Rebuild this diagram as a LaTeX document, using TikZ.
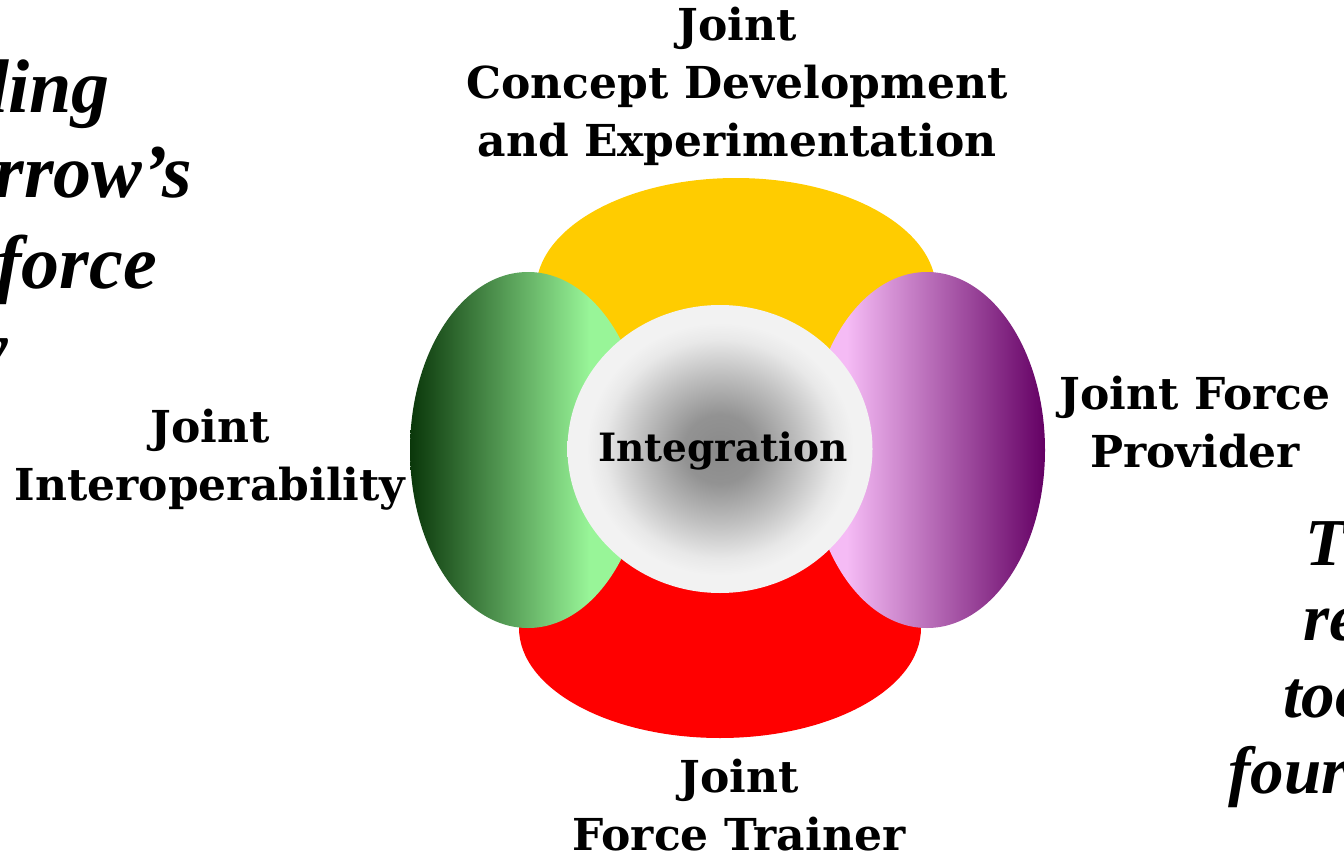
\documentclass[tikz,border=0pt]{standalone}
\usepackage{fontspec}
\setmainfont{DejaVu Serif}
\newfontfamily\sidefont{Liberation Serif}
\usetikzlibrary{shapes.geometric}
\definecolor{cdeyellow}{RGB}{255,204,0}
\definecolor{trainred}{RGB}{255,0,0}
\definecolor{gdark}{RGB}{10,55,10}
\definecolor{glight}{RGB}{152,245,152}
\definecolor{ppink}{RGB}{245,187,245}
\definecolor{pdark}{RGB}{100,0,100}
\pgfdeclarehorizontalshading{interopshade}{100bp}{color(0bp)=(gdark); color(25bp)=(gdark); color(63bp)=(glight); color(100bp)=(glight)}
\pgfdeclarehorizontalshading{providershade}{100bp}{color(0bp)=(ppink); color(33bp)=(ppink); color(75bp)=(pdark); color(100bp)=(pdark)}
\pgfdeclareradialshading{integshade}{\pgfpoint{0bp}{0bp}}{color(0bp)=(gray!92); color(6bp)=(gray!85); color(13bp)=(gray!50); color(19bp)=(gray!18); color(22bp)=(gray!10); color(50bp)=(gray!10)}
\tikzset{
  petal/.style={ellipse, inner sep=0pt},
  lbl/.style={font=\bfseries\fontsize{44}{58}\selectfont, align=center, inner sep=0pt},
  lside/.style={font=\sidefont\bfseries\itshape\fontsize{76}{84}\selectfont, inner sep=0pt, anchor=base east},
  rside/.style={font=\sidefont\bfseries\itshape\fontsize{67}{78}\selectfont, inner sep=0pt, anchor=base west}
}
\begin{document}
\begin{tikzpicture}[x=1pt,y=-1pt]
  \useasboundingbox (0,0) rectangle (1344,856);
  \clip (0,0) rectangle (1344,856);
  \node[petal, fill=cdeyellow, minimum width=400pt, minimum height=224pt] (cde) at (736,290) {};
  \node[petal, fill=trainred, minimum width=402pt, minimum height=220pt] (trainer) at (720,628) {};
  \node[petal, shading=interopshade, minimum width=236pt, minimum height=356pt] (interop) at (528,450) {};
  \node[petal, shading=providershade, minimum width=236pt, minimum height=356pt] (provider) at (927,450) {};
  \node[petal, shading=integshade, minimum width=305pt, minimum height=288pt] (integ) at (720,449) {};
  \node[lbl, font=\bfseries\fontsize{39}{50}\selectfont] (integlbl) at (723,451) {Integration};
  \node[lbl] (cdelbl) at (737,86) {Joint\\Concept Development\\and Experimentation};
  \node[lbl] (interoplbl) at (210,460) {Joint\\Interoperability};
  \node[lbl] (providerlbl) at (1195,422) {Joint Force\\Provider};
  \node[lbl] (trainerlbl) at (739,805) {Joint\\Force Trainer};
  \node[lside] (lt1) at (110,113) {ding};
  \node[lside] (lt2) at (192,197) {rrow’s};
  \node[lside] (lt3) at (157,288) {force};
  \node[lside] (lt4) at (8,373) {y};
  \node[rside] (rt1) at (1305,565) {Th};
  \node[rside] (rt2) at (1303,640) {re};
  \node[rside] (rt3) at (1283,717) {too};
  \node[rside] (rt4) at (1228,793) {four};
\end{tikzpicture}
\end{document}
